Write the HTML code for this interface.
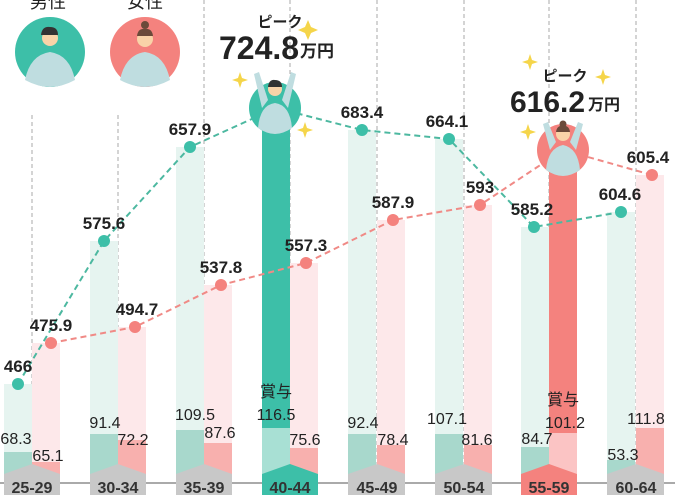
<!DOCTYPE html>
<html><head><meta charset="utf-8"><style>
html,body{margin:0;padding:0;background:#fff;}
svg{display:block;font-family:"Liberation Sans","Noto Sans CJK JP",sans-serif;}
.v{font-size:17px;font-weight:bold;fill:#222;text-anchor:middle;}
.b{font-size:16px;fill:#222;text-anchor:middle;}
.ax{font-size:16px;font-weight:bold;fill:#333;text-anchor:middle;}
</style></head><body>
<svg width="675" height="495" viewBox="0 0 675 495">
<g stroke="#aaa" stroke-dasharray="4,3" stroke-width="1">
<line x1="32" y1="115" x2="32" y2="470"/><line x1="118" y1="115" x2="118" y2="470"/>
<line x1="204" y1="0" x2="204" y2="470"/><line x1="290" y1="0" x2="290" y2="470"/>
<line x1="377" y1="0" x2="377" y2="470"/><line x1="464" y1="0" x2="464" y2="470"/>
<line x1="549" y1="0" x2="549" y2="470"/><line x1="636" y1="0" x2="636" y2="470"/>
</g>
<g>
<rect x="4" y="384" width="28" height="90" fill="#e6f4f0"/><rect x="4" y="452" width="28" height="22" fill="#a8d8cc"/>
<rect x="32" y="343" width="28" height="131" fill="#fde8ea"/><rect x="32" y="462" width="28" height="12" fill="#f8b0ae"/>
<rect x="90" y="241" width="28" height="233" fill="#e6f4f0"/><rect x="90" y="434" width="28" height="40" fill="#a8d8cc"/>
<rect x="118" y="327" width="28" height="147" fill="#fde8ea"/><rect x="118" y="440" width="28" height="34" fill="#f8b0ae"/>
<rect x="176" y="147" width="28" height="327" fill="#e6f4f0"/><rect x="176" y="430" width="28" height="44" fill="#a8d8cc"/>
<rect x="204" y="285" width="28" height="189" fill="#fde8ea"/><rect x="204" y="443" width="28" height="31" fill="#f8b0ae"/>
<rect x="262" y="110" width="28" height="364" fill="#3dbfa8"/><rect x="262" y="428" width="28" height="46" fill="#a8e0d4"/>
<rect x="290" y="263" width="28" height="211" fill="#fde8ea"/><rect x="290" y="448" width="28" height="26" fill="#f8b0ae"/>
<rect x="348" y="130" width="28" height="344" fill="#e6f4f0"/><rect x="348" y="434" width="28" height="40" fill="#a8d8cc"/>
<rect x="377" y="220" width="28" height="254" fill="#fde8ea"/><rect x="377" y="445" width="28" height="29" fill="#f8b0ae"/>
<rect x="435" y="139" width="28" height="335" fill="#e6f4f0"/><rect x="435" y="434" width="28" height="40" fill="#a8d8cc"/>
<rect x="464" y="205" width="28" height="269" fill="#fde8ea"/><rect x="464" y="445" width="28" height="29" fill="#f8b0ae"/>
<rect x="521" y="227" width="28" height="247" fill="#e6f4f0"/><rect x="521" y="447" width="28" height="27" fill="#a8d8cc"/>
<rect x="549" y="160" width="28" height="314" fill="#f4827e"/><rect x="549" y="433" width="28" height="41" fill="#fbc4c4"/>
<rect x="607" y="212" width="28" height="262" fill="#e6f4f0"/><rect x="607" y="460" width="28" height="14" fill="#a8d8cc"/>
<rect x="636" y="175" width="28" height="299" fill="#fde8ea"/><rect x="636" y="428" width="28" height="46" fill="#f8b0ae"/>
</g>
<line x1="0" y1="483" x2="675" y2="483" stroke="#777" stroke-width="1.2"/>
<g fill="#c8c8c8">
<polygon points="4,474 32,464 60,474 60,495 4,495"/>
<polygon points="90,474 118,464 146,474 146,495 90,495"/>
<polygon points="176,474 204,464 232,474 232,495 176,495"/>
<polygon points="262,474 290,464 318,474 318,495 262,495" fill="#3dbfa8"/>
<polygon points="348,474 377,464 405,474 405,495 348,495"/>
<polygon points="435,474 464,464 492,474 492,495 435,495"/>
<polygon points="521,474 549,464 577,474 577,495 521,495" fill="#f4827e"/>
<polygon points="607,474 636,464 664,474 664,495 607,495"/>
</g>
<g class="ax">
<text x="32" y="493">25-29</text><text x="118" y="493">30-34</text><text x="204" y="493">35-39</text><text x="290" y="493">40-44</text>
<text x="377" y="493">45-49</text><text x="464" y="493">50-54</text><text x="549" y="493">55-59</text><text x="636" y="493">60-64</text>
</g>
<polyline points="18,384 104,241 190,147 276,108 362,130 449,139 534,227 621,212" fill="none" stroke="#4cb8a0" stroke-width="2" stroke-dasharray="6,4"/>
<polyline points="51,343 135,327 221,285 306,263 393,220 480,205 563,150 652,175" fill="none" stroke="#f08a86" stroke-width="2" stroke-dasharray="6,4"/>
<g fill="#3dbfa8">
<circle cx="18" cy="384" r="6"/><circle cx="104" cy="241" r="6"/><circle cx="190" cy="147" r="6"/>
<circle cx="362" cy="130" r="6"/><circle cx="449" cy="139" r="6"/><circle cx="534" cy="227" r="6"/><circle cx="621" cy="212" r="6"/>
</g>
<g fill="#f4827e">
<circle cx="51" cy="343" r="6"/><circle cx="135" cy="327" r="6"/><circle cx="221" cy="285" r="6"/><circle cx="306" cy="263" r="6"/>
<circle cx="393" cy="220" r="6"/><circle cx="480" cy="205" r="6"/><circle cx="652" cy="175" r="6"/>
</g>
<g class="v">
<text x="18" y="372">466</text><text x="104" y="229">575.6</text><text x="190" y="135">657.9</text>
<text x="362" y="118">683.4</text><text x="447" y="127">664.1</text><text x="532" y="215">585.2</text><text x="620" y="200">604.6</text>
<text x="51" y="331">475.9</text><text x="137" y="315">494.7</text><text x="221" y="273">537.8</text><text x="306" y="251">557.3</text>
<text x="393" y="208">587.9</text><text x="480" y="193">593</text><text x="648" y="163">605.4</text>
</g>
<g class="b">
<text x="16" y="444">68.3</text><text x="48" y="461">65.1</text>
<text x="105" y="428">91.4</text><text x="133" y="445">72.2</text>
<text x="195" y="420">109.5</text><text x="220" y="438">87.6</text>
<text x="276" y="397">賞与</text><text x="276" y="420">116.5</text><text x="305" y="445">75.6</text>
<text x="363" y="428">92.4</text><text x="393" y="445">78.4</text>
<text x="447" y="424">107.1</text><text x="477" y="445">81.6</text>
<text x="537" y="444">84.7</text><text x="563" y="405">賞与</text><text x="565" y="428">101.2</text>
<text x="623" y="460">53.3</text><text x="646" y="424">111.8</text>
</g>
<text x="48" y="8" font-size="18" fill="#222" text-anchor="middle">男性</text>
<text x="145" y="8" font-size="18" fill="#222" text-anchor="middle">女性</text>
<circle cx="50" cy="52" r="35" fill="#3dbfa8"/>
<path d="M25,80 Q30,55 50,52 Q70,55 75,80 Q62,87 50,87 Q38,87 25,80Z" fill="#bfdde0"/>
<circle cx="50" cy="38" r="8" fill="#f9d3a8"/><path d="M41,35 Q42,26 50,27 Q58,27 58,35Z" fill="#333"/>
<circle cx="145" cy="52" r="35" fill="#f4827e"/>
<path d="M120,80 Q125,55 145,52 Q165,55 170,80 Q157,87 145,87 Q133,87 120,80Z" fill="#bfdde0"/>
<circle cx="145" cy="39" r="8" fill="#f9d3a8"/><circle cx="145" cy="25" r="4" fill="#6b4a3a"/><path d="M137,36 Q138,28 145,29 Q152,28 153,36Z" fill="#6b4a3a"/>
<text x="280" y="27" font-size="15" font-weight="bold" fill="#222" text-anchor="middle">ピーク</text>
<text x="219" y="59" font-size="32" font-weight="bold" fill="#222">724.8</text>
<text x="300" y="57" font-size="17" font-weight="bold" fill="#222">万円</text>
<g fill="#f5d54a"><path d="M308,20 l3,7 l7,3 l-7,3 l-3,7 l-3,-7 l-7,-3 l7,-3z"/><path d="M240,72 l2,6 l6,2 l-6,2 l-2,6 l-2,-6 l-6,-2 l6,-2z"/><path d="M305,122 l2,6 l6,2 l-6,2 l-2,6 l-2,-6 l-6,-2 l6,-2z"/></g>
<circle cx="275" cy="108" r="26" fill="#3dbfa8"/>
<path d="M258,128 Q260,105 275,103 Q290,105 292,128 Q283,134 275,134 Q267,134 258,128Z" fill="#bfdde0"/>
<path d="M262,108 L254,74 L259,72 L268,100Z M288,108 L296,74 L291,72 L282,100Z" fill="#bfdde0"/>
<circle cx="275" cy="89" r="7" fill="#f9d3a8"/><path d="M268,87 Q269,79 275,80 Q282,80 282,87Z" fill="#333"/>
<text x="565" y="81" font-size="15" font-weight="bold" fill="#222" text-anchor="middle">ピーク</text>
<text x="510" y="112" font-size="30" font-weight="bold" fill="#222">616.2</text>
<text x="588" y="110" font-size="16" font-weight="bold" fill="#222">万円</text>
<g fill="#f5d54a"><path d="M530,54 l2,6 l6,2 l-6,2 l-2,6 l-2,-6 l-6,-2 l6,-2z"/><path d="M603,69 l2,6 l6,2 l-6,2 l-2,6 l-2,-6 l-6,-2 l6,-2z"/><path d="M528,124 l2,6 l6,2 l-6,2 l-2,6 l-2,-6 l-6,-2 l6,-2z"/></g>
<circle cx="563" cy="150" r="26" fill="#f4827e"/>
<path d="M546,170 Q548,148 563,145 Q578,148 580,170 Q571,176 563,176 Q555,176 546,170Z" fill="#bfdde0"/>
<path d="M550,150 L543,124 L548,122 L556,142Z M576,150 L583,124 L578,122 L570,142Z" fill="#bfdde0"/>
<circle cx="563" cy="134" r="7" fill="#f9d3a8"/><circle cx="563" cy="124" r="3.5" fill="#6b4a3a"/><path d="M556,132 Q557,125 563,126 Q569,125 570,132Z" fill="#6b4a3a"/>
</svg>
</body></html>
